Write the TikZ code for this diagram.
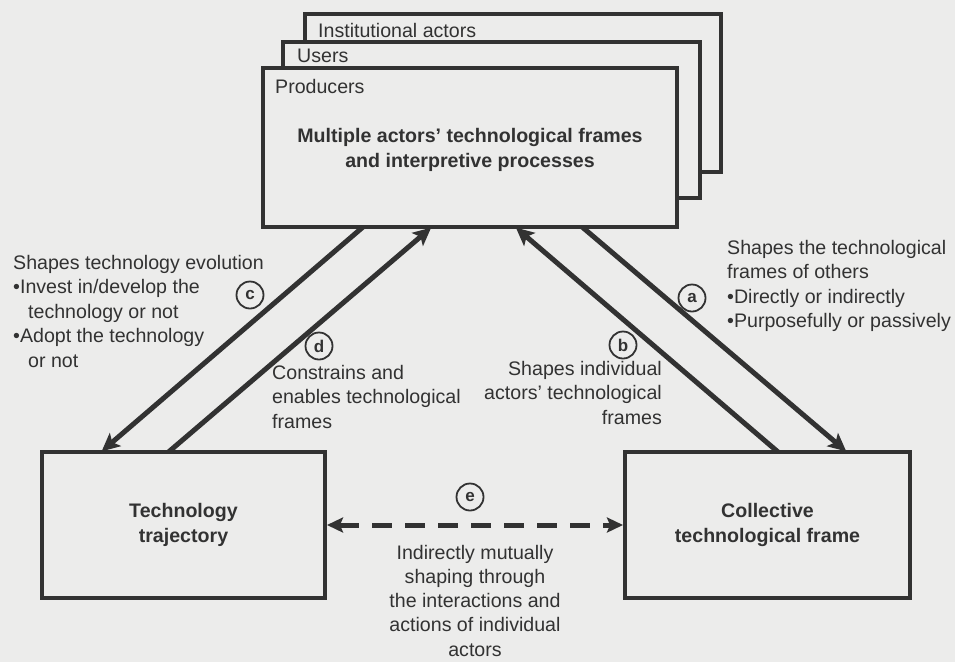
\documentclass[tikz,border=0pt]{standalone}
\usepackage{fontspec}
\setmainfont{Liberation Sans}
\usetikzlibrary{arrows.meta,calc}
\definecolor{bgc}{RGB}{236,236,235}
\definecolor{inkc}{RGB}{50,50,50}
\begin{document}
\begin{tikzpicture}[x=1pt,y=-1pt,
  every node/.style={text=inkc, font=\fontsize{19.6pt}{24.5pt}\selectfont},
  box/.style={draw=inkc, line width=4pt, fill=bgc, rectangle, inner sep=0pt, outer sep=0pt, anchor=north west},
  boxtext/.style={align=center, font=\fontsize{19.6pt}{24.5pt}\selectfont\bfseries},
  lbl/.style={inner sep=0pt},
  circ/.style={circle, draw=inkc, line width=1.8pt, minimum size=27pt, inner sep=0pt, font=\fontsize{17pt}{17pt}\selectfont\bfseries},
  arr/.style={draw=inkc, line width=5pt, -{Stealth[length=18pt,width=17pt,inset=4pt]}, shorten >=1pt},
  darr/.style={draw=inkc, line width=5pt, dash pattern=on 20pt off 13pt, {Stealth[length=16pt,width=15pt,inset=3pt]}-{Stealth[length=16pt,width=15pt,inset=3pt]}, shorten >=2pt, shorten <=2pt},
]
\fill[bgc] (0,0) rectangle (955,662);
\useasboundingbox (0,0) rectangle (955,662);

% stacked actor boxes
\node[box, minimum width=416pt, minimum height=158pt] (inst) at (305,14) {};
\node[lbl, anchor=base west] (instl) at (318,37) {Institutional actors};
\node[box, minimum width=417pt, minimum height=156pt] (users) at (283,42) {};
\node[lbl, anchor=base west] (usersl) at (297,62) {Users};
\node[box, minimum width=414pt, minimum height=159pt] (prod) at (263,68) {};
\node[lbl, anchor=base west] (prodl) at (275,93) {Producers};
\node[boxtext] (title) at (470,150) {Multiple actors’ technological frames\\and interpretive processes};

% bottom boxes
\node[box, minimum width=283pt, minimum height=146pt, boxtext] (tech) at (42,452) {Technology\\trajectory};
\node[box, minimum width=285pt, minimum height=146pt, boxtext] (coll) at (625,452) {Collective\\technological frame};

% connector end points
\coordinate (pc) at ($(prod.south west)!0.2415!(prod.south east)$);
\coordinate (pd) at ($(prod.south west)!0.408!(prod.south east)$);
\coordinate (pb) at ($(prod.south west)!0.609!(prod.south east)$);
\coordinate (pa) at ($(prod.south west)!0.771!(prod.south east)$);
\coordinate (tc) at ($(tech.north west)!0.208!(tech.north east)$);
\coordinate (td) at ($(tech.north west)!0.447!(tech.north east)$);
\coordinate (cb) at ($(coll.north west)!0.537!(coll.north east)$);
\coordinate (ca) at ($(coll.north west)!0.779!(coll.north east)$);

\draw[arr] (pc) -- (tc);
\draw[arr] (td) -- (pd);
\draw[arr] (cb) -- (pb);
\draw[arr] (pa) -- (ca);
\draw[darr] (tech.east) -- (coll.west);

% circled letters
\node[circ] (ccirc) at (250,295) {c};
\node[circ] (dcirc) at (319,346) {d};
\node[circ] (acirc) at (692,298) {a};
\node[circ] (bcirc) at (623,345) {b};
\node[circ] (ecirc) at (470,497) {e};

% labels (base anchor = baseline of the last line)
\node[lbl, align=left, anchor=base west] (ctext) at (13,367) {Shapes technology evolution\\•Invest in/develop the\\\hspace*{15pt}technology or not\\•Adopt the technology\\\hspace*{15pt}or not};
\node[lbl, align=left, anchor=base west] (dtext) at (272,428) {Constrains and\\enables technological\\frames};
\node[lbl, align=right, anchor=base east] (btext) at (662,424) {Shapes individual\\actors’ technological\\frames};
\node[lbl, align=left, anchor=base west] (atext) at (727,327.5) {Shapes the technological\\frames of others\\•Directly or indirectly\\•Purposefully or passively};
\node[lbl, align=center, anchor=base, font=\fontsize{19.6pt}{24.2pt}\selectfont] (etext) at (475,656) {Indirectly mutually\\shaping through\\the interactions and\\actions of individual\\actors};
\end{tikzpicture}
\end{document}
